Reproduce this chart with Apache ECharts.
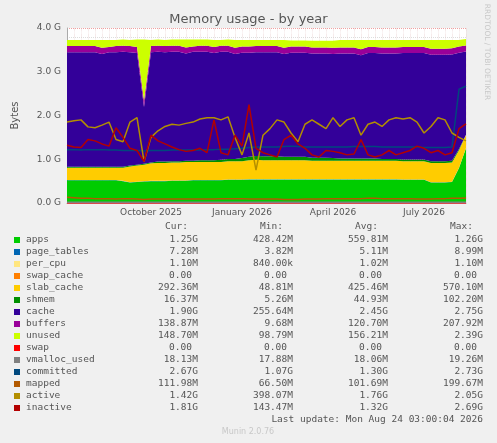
<!DOCTYPE html>
<html><head><meta charset="utf-8">
<script src="https://cdn.jsdelivr.net/npm/echarts@6/dist/echarts.min.js"></script>
<style>html,body{margin:0;background:#F0F0F0}#c{width:497px;height:443px}</style>
</head><body><div id="c"></div>
<script>
// weekly samples starting 2025-07-07 (58 weeks)
const startDate = '2025-07-07';
const nWeeks = 58;
const apps = [0.52,0.52,0.52,0.52,0.52,0.52,0.52,0.52,0.50,0.47,0.48,0.49,0.50,0.50,0.50,0.51,0.51,0.51,0.52,0.52,0.52,0.52,0.52,0.53,0.53,0.53,0.54,0.54,0.54,0.54,0.54,0.54,0.54,0.54,0.54,0.54,0.54,0.54,0.54,0.54,0.54,0.54,0.54,0.54,0.54,0.54,0.54,0.54,0.53,0.53,0.53,0.53,0.47,0.47,0.47,0.48,0.80,1.25];
const page_tables = Array(58).fill(0.005);
const per_cpu = Array(58).fill(0.001);
const swap_cache = Array(58).fill(0);
const slab_cache = [0.28,0.28,0.28,0.28,0.28,0.28,0.28,0.28,0.30,0.36,0.37,0.38,0.40,0.41,0.41,0.41,0.41,0.42,0.41,0.41,0.41,0.41,0.41,0.42,0.42,0.42,0.43,0.44,0.43,0.43,0.43,0.43,0.43,0.43,0.43,0.42,0.42,0.42,0.42,0.42,0.42,0.42,0.42,0.42,0.42,0.42,0.42,0.42,0.42,0.42,0.42,0.42,0.44,0.44,0.44,0.44,0.40,0.29];
const shmem = [0.02,0.02,0.02,0.02,0.02,0.02,0.02,0.02,0.02,0.02,0.02,0.02,0.02,0.03,0.03,0.03,0.03,0.03,0.03,0.04,0.04,0.04,0.05,0.05,0.05,0.07,0.08,0.09,0.09,0.09,0.09,0.08,0.08,0.08,0.08,0.07,0.07,0.07,0.06,0.05,0.05,0.05,0.05,0.05,0.05,0.04,0.04,0.04,0.04,0.04,0.04,0.04,0.04,0.04,0.04,0.04,0.03,0.016];
const cache = [2.62,2.62,2.62,2.62,2.62,2.58,2.62,2.62,2.63,2.59,2.55,1.30,2.52,2.51,2.50,2.50,2.50,2.45,2.49,2.48,2.48,2.45,2.47,2.45,2.40,2.41,2.38,2.37,2.38,2.38,2.38,2.35,2.38,2.38,2.38,2.38,2.38,2.38,2.38,2.40,2.40,2.40,2.36,2.41,2.41,2.41,2.41,2.41,2.43,2.43,2.43,2.43,2.43,2.43,2.43,2.43,2.20,1.90];
const buffers = [0.14,0.14,0.14,0.14,0.14,0.14,0.12,0.14,0.14,0.14,0.14,0.14,0.14,0.14,0.14,0.14,0.14,0.14,0.12,0.14,0.14,0.14,0.14,0.14,0.14,0.14,0.14,0.14,0.14,0.14,0.14,0.14,0.14,0.14,0.14,0.14,0.14,0.14,0.14,0.14,0.14,0.14,0.14,0.14,0.14,0.14,0.14,0.14,0.14,0.14,0.14,0.14,0.14,0.14,0.14,0.14,0.14,0.139];
const unused = [0.14,0.14,0.14,0.14,0.14,0.18,0.16,0.14,0.14,0.14,0.17,1.40,0.14,0.14,0.14,0.14,0.14,0.18,0.16,0.14,0.14,0.16,0.13,0.14,0.18,0.15,0.15,0.14,0.14,0.14,0.14,0.18,0.14,0.14,0.14,0.15,0.15,0.15,0.16,0.17,0.17,0.17,0.21,0.16,0.16,0.17,0.17,0.17,0.16,0.16,0.16,0.16,0.20,0.20,0.20,0.19,0.15,0.149];
const swap = Array(58).fill(0);
const vmalloc_used = Array(58).fill(0.018);
const committed = [1.22,1.22,1.21,1.22,1.22,1.22,1.21,1.21,1.20,1.20,1.20,1.19,1.20,1.20,1.20,1.21,1.21,1.21,1.21,1.21,1.22,1.22,1.23,1.23,1.24,1.25,1.27,1.28,1.28,1.28,1.28,1.29,1.30,1.29,1.28,1.28,1.28,1.28,1.28,1.28,1.28,1.29,1.29,1.29,1.29,1.28,1.28,1.28,1.28,1.28,1.28,1.27,1.27,1.27,1.27,1.28,2.60,2.67];
const mapped = [0.13,0.12,0.11,0.11,0.10,0.10,0.10,0.09,0.10,0.10,0.09,0.08,0.09,0.09,0.09,0.09,0.09,0.09,0.09,0.09,0.09,0.09,0.10,0.10,0.10,0.10,0.09,0.09,0.09,0.09,0.09,0.08,0.08,0.08,0.09,0.09,0.09,0.10,0.10,0.10,0.10,0.10,0.10,0.11,0.11,0.10,0.10,0.10,0.10,0.10,0.09,0.09,0.09,0.10,0.10,0.11,0.11,0.112];
const active = [1.85,1.88,1.90,1.74,1.72,1.78,1.85,1.45,1.40,1.85,1.95,0.95,1.50,1.65,1.75,1.80,1.78,1.82,1.85,1.92,1.95,1.95,1.90,1.97,1.50,1.10,1.60,0.75,1.55,1.70,1.90,1.85,1.60,1.40,1.80,1.90,1.80,1.70,1.95,1.75,1.90,1.95,1.55,1.80,1.85,1.75,1.90,1.95,1.92,1.95,1.85,1.60,1.75,1.95,1.90,1.60,1.50,1.42];
const inactive = [1.32,1.28,1.27,1.45,1.42,1.35,1.30,1.72,1.50,1.25,1.20,0.95,1.55,1.42,1.35,1.28,1.22,1.18,1.20,1.25,1.15,1.90,1.15,1.10,1.55,1.30,2.25,1.25,1.15,1.10,1.05,1.45,1.55,1.35,1.25,1.10,1.05,1.20,1.18,1.15,1.10,1.12,1.45,1.10,1.05,1.10,1.20,1.10,1.15,1.20,1.30,1.25,1.15,1.20,1.10,1.15,1.70,1.81];

const names = ['apps','page_tables','per_cpu','swap_cache','slab_cache','shmem','cache','buffers','unused','swap','vmalloc_used','committed','mapped','active','inactive'];
const colors = ['#00CC00','#0066B3','#FFE680','#FF8000','#FFCC00','#008F00','#330099','#990099','#CCFF00','#FF0000','#808080','#00487D','#B35A00','#B38F00','#B30000'];
const curV = ['1.25G','7.28M','1.10M','0.00','292.36M','16.37M','1.90G','138.87M','148.70M','0.00','18.13M','2.67G','111.98M','1.42G','1.81G'];
const minV = ['428.42M','3.82M','840.00k','0.00','48.81M','5.26M','255.64M','9.68M','98.79M','0.00','17.88M','1.07G','66.50M','398.07M','143.47M'];
const avgV = ['559.81M','5.11M','1.02M','0.00','425.46M','44.93M','2.45G','120.70M','156.21M','0.00','18.06M','1.30G','101.69M','1.76G','1.32G'];
const maxV = ['1.26G','8.99M','1.10M','0.00','570.10M','102.20M','2.75G','207.92M','2.39G','0.00','19.26M','2.73G','199.67M','2.05G','2.69G'];
const xLabelMap = {12:'October 2025', 25:'January 2026', 38:'April 2026', 51:'July 2026'};

const dates = [];
for (let i=0;i<nWeeks;i++){const d=new Date(startDate+'T00:00:00Z');d.setUTCDate(d.getUTCDate()+7*i);dates.push(d.toISOString().slice(0,10));}
const areaData = [apps,page_tables,per_cpu,swap_cache,slab_cache,shmem,cache,buffers,unused];
const lineData = [swap,vmalloc_used,committed,mapped,active,inactive];
const series = [];
areaData.forEach((d,i)=>series.push({name:names[i],type:'line',stack:'mem',data:d,symbol:'none',lineStyle:{width:0},areaStyle:{color:colors[i],opacity:1},itemStyle:{color:colors[i]}}));
lineData.forEach((d,j)=>{const i=j+9;series.push({name:names[i],type:'line',data:d,symbol:'none',lineStyle:{width:1.5,color:colors[i]},itemStyle:{color:colors[i]},z:5});});

const mono = 'DejaVu Sans Mono';
const g = [];
const top0 = 240, step = 12;
[['Cur:',198],['Min:',293],['Avg:',388],['Max:',483]].forEach(h=>g.push({type:'text',x:h[1]-10,y:227,style:{text:h[0],font:'9.5px '+mono,fill:'#555',align:'right',verticalAlign:'middle'}}));
names.forEach((n,i)=>{
  const y = top0+i*step;
  g.push({type:'rect',shape:{x:14,y:y-3,width:6,height:6},style:{fill:colors[i]}});
  g.push({type:'text',x:26,y:y,style:{text:n,font:'9.5px '+mono,fill:'#555',verticalAlign:'middle'}});
  [[curV,198],[minV,293],[avgV,388],[maxV,483]].forEach(c=>{
    const t=c[0][i]; const pad = t==='0.00'?-6:0;
    g.push({type:'text',x:c[1]+pad,y:y,style:{text:t,font:'9.5px '+mono,fill:'#555',align:'right',verticalAlign:'middle'}});
  });
});
g.push({type:'text',x:483,y:420,style:{text:'Last update: Mon Aug 24 03:00:04 2026',font:'9.5px '+mono,fill:'#555',align:'right',verticalAlign:'middle'}});
g.push({type:'text',x:248,y:432,style:{text:'Munin 2.0.76',font:'8px DejaVu Sans',fill:'#C8C8C8',align:'center',verticalAlign:'middle'}});
g.push({type:'text',x:487,y:52,rotation:-Math.PI/2,style:{text:'RRDTOOL / TOBI OETIKER',font:'7.5px DejaVu Sans',fill:'#C8C8C8',align:'center',verticalAlign:'middle'}});

const chart = echarts.init(document.getElementById('c'));
chart.setOption({
  backgroundColor:'#F0F0F0',
  animation:false,
  title:{text:'Memory usage - by year',left:'center',top:8,textStyle:{fontFamily:'DejaVu Sans',fontSize:13,fontWeight:'normal',color:'#555'}},
  grid:{left:67,right:31,top:28,bottom:240,backgroundColor:'#fff',show:true,borderWidth:0},
  xAxis:{type:'category',data:dates,boundaryGap:false,
    axisLine:{lineStyle:{color:'#aaa'}},axisTick:{show:false},
    axisLabel:{interval:(i)=>i in xLabelMap,formatter:(v,i)=>xLabelMap[i]||'',color:'#555',fontFamily:'DejaVu Sans',fontSize:9,margin:5},
    splitLine:{show:true,interval:0,lineStyle:{color:'#e6c8c8',type:'dotted',width:0.6}}},
  yAxis:{type:'value',min:0,max:4,interval:1,name:'Bytes',nameLocation:'middle',nameGap:47,nameTextStyle:{color:'#555',fontFamily:'DejaVu Sans',fontSize:10},
    axisLine:{show:true,lineStyle:{color:'#aaa'}},axisTick:{show:false},
    axisLabel:{formatter:v=>v.toFixed(1)+' G',color:'#555',fontFamily:'DejaVu Sans',fontSize:9,margin:6},
    splitLine:{lineStyle:{color:'#f0a0a0',type:'dotted'}},
    minorTick:{show:false,splitNumber:5},minorSplitLine:{show:true,lineStyle:{color:'#ddd',type:'dotted'}}},
  series:series,
  graphic:g
});
</script></body></html>
